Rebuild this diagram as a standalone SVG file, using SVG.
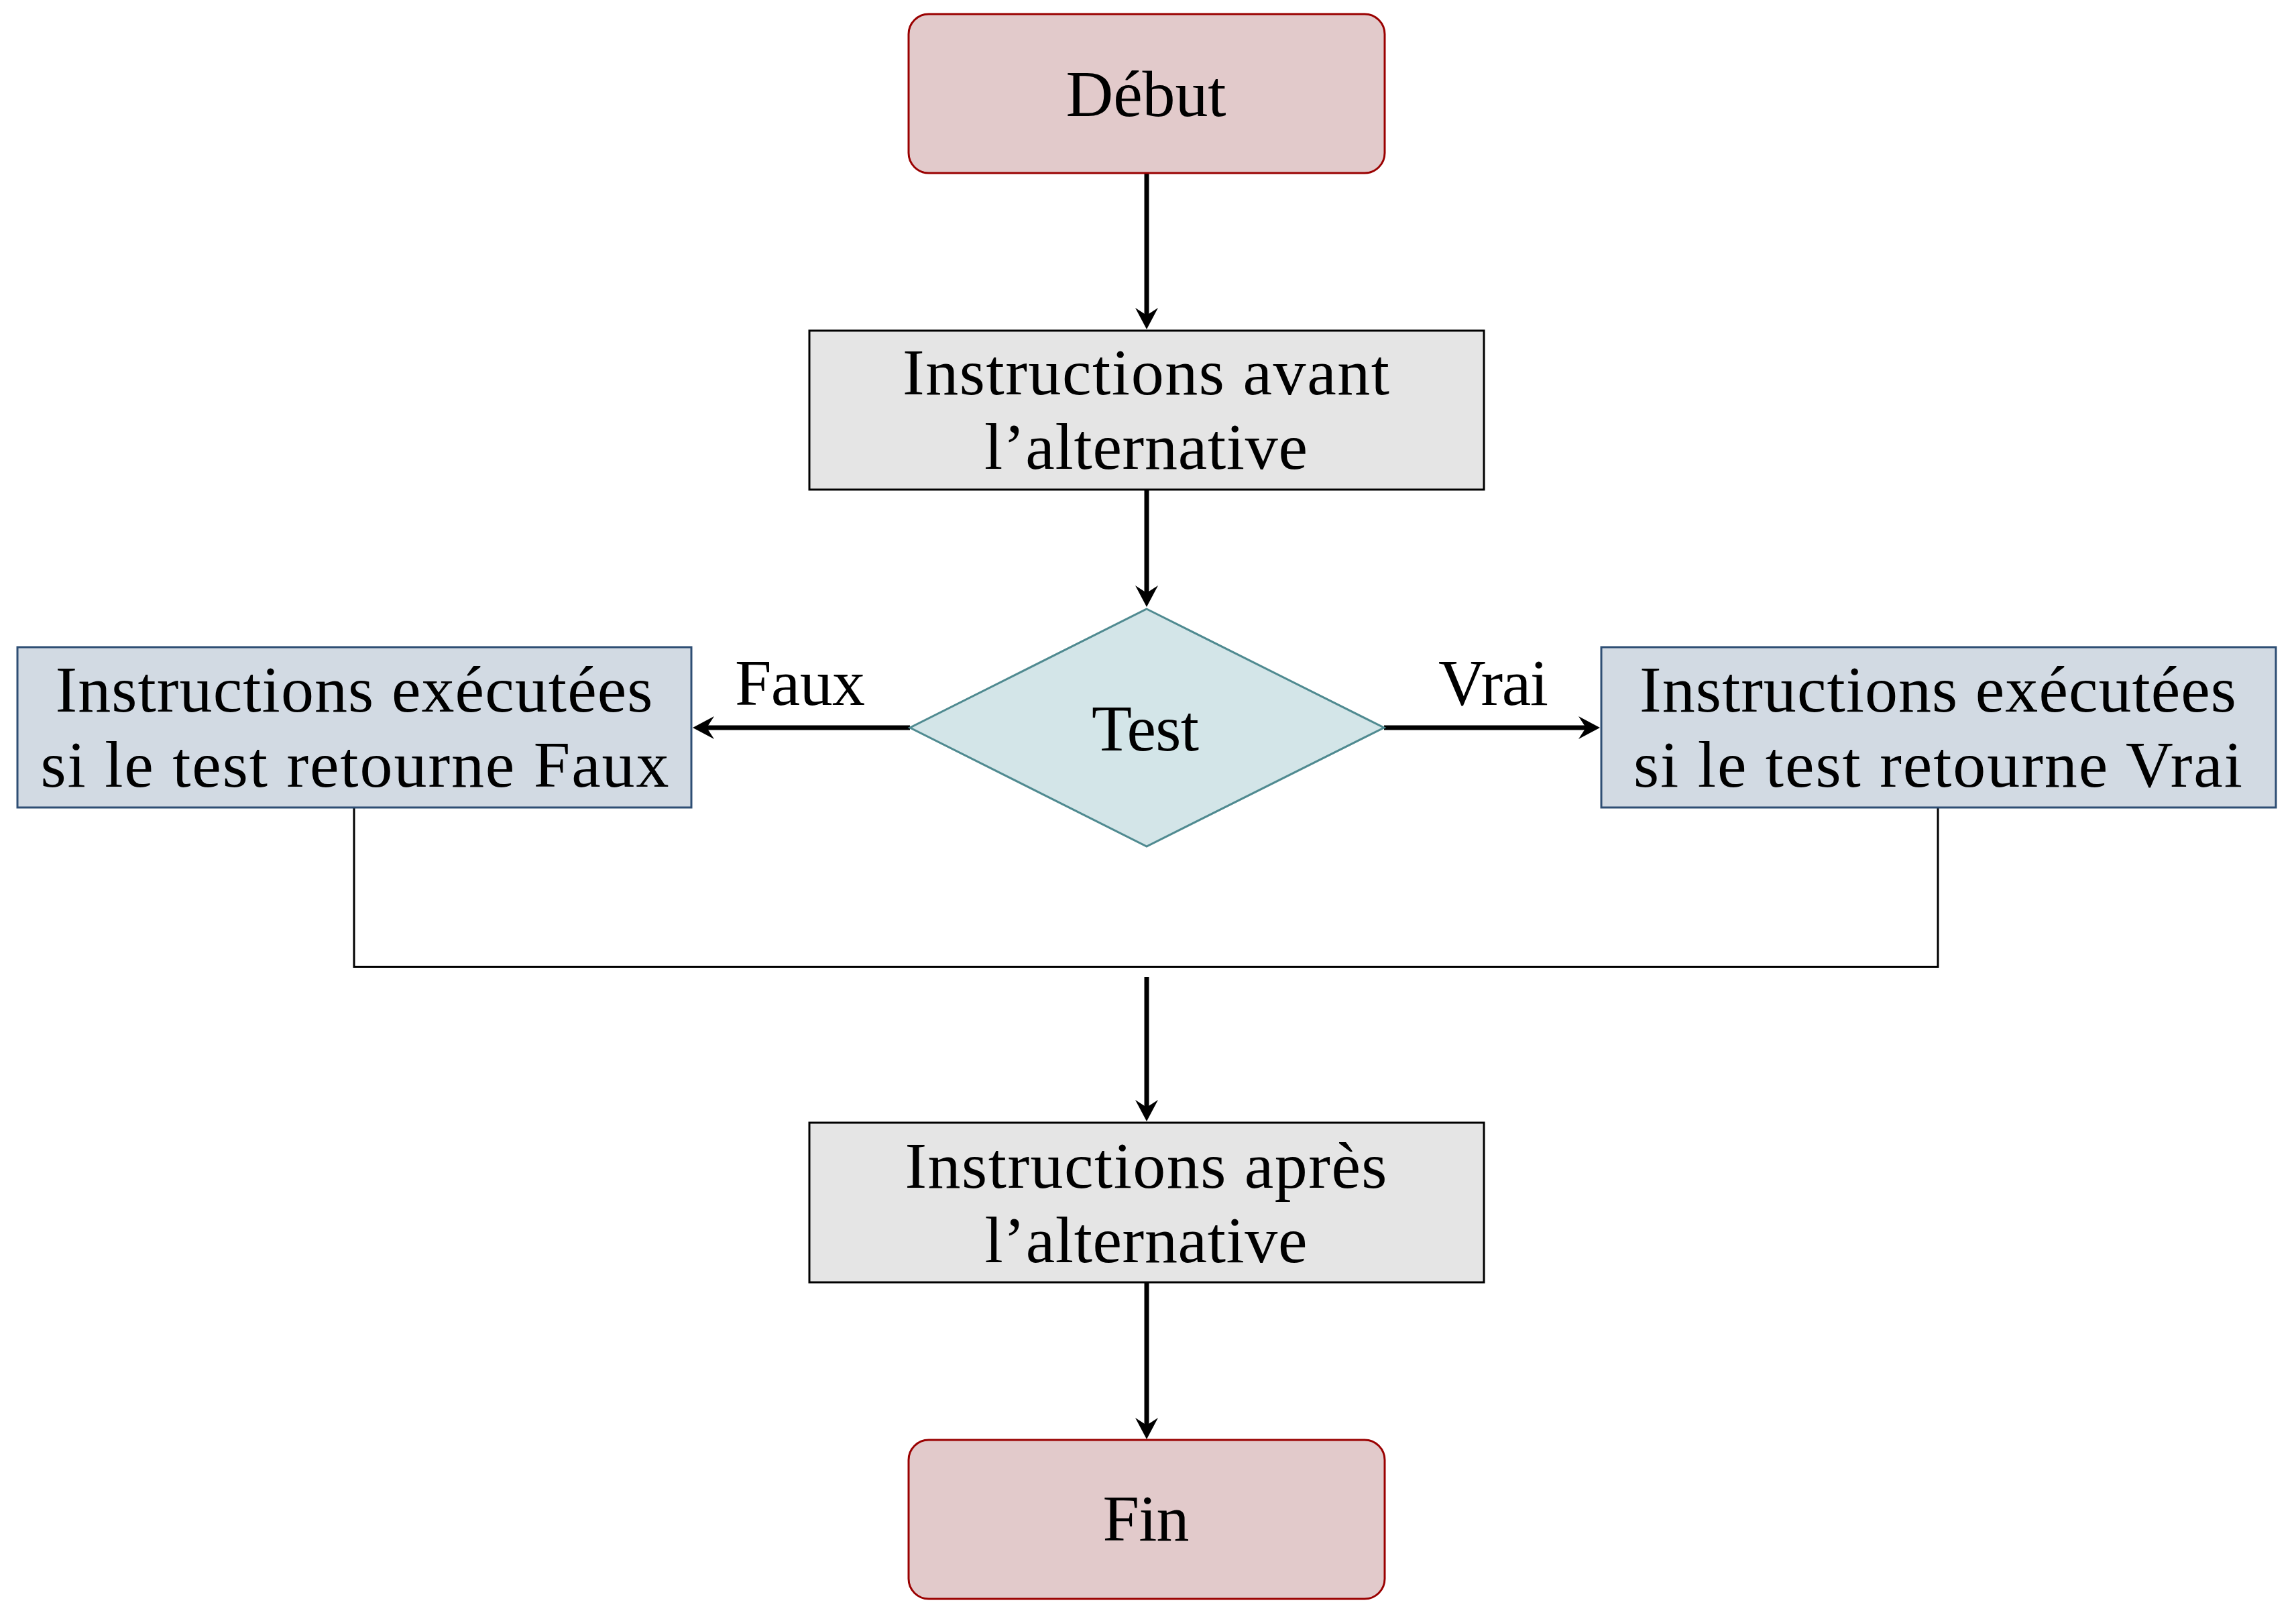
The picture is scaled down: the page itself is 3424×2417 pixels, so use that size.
<svg xmlns="http://www.w3.org/2000/svg" width="3424" height="2417" viewBox="0 0 3424 2417">
<style>
  text { font-family: "Liberation Serif", "Times New Roman", serif; font-size: 98px; fill: #000; text-anchor: middle; }
  .term { fill: #e2cacb; stroke: #9a0000; stroke-width: 3; }
  .proc { fill: #e5e5e5; stroke: #000; stroke-width: 3; }
  .branch { fill: #d2dae3; stroke: #2e4e74; stroke-width: 3; }
  .dec { fill: #d3e5e8; stroke: #4f8a90; stroke-width: 3; }
  .arrow { fill: none; stroke: #000; stroke-width: 7; marker-end: url(#head); }
  .join { fill: none; stroke: #000; stroke-width: 3; }
</style>
<defs>
  <marker id="head" markerUnits="userSpaceOnUse" viewBox="0 -18 34 36" refX="17" refY="0" markerWidth="34" markerHeight="36" orient="auto" overflow="visible">
    <path d="M0,-17 L32,0 L0,17 L11,0 Z" fill="#000"/>
  </marker>
</defs>
<rect width="3424" height="2417" fill="#fff"/>

<g id="connectors">
  <line class="arrow" x1="1710" y1="258" x2="1710" y2="476"/>
  <line class="arrow" x1="1710" y1="730" x2="1710" y2="890"/>
  <line class="arrow" x1="1357" y1="1085" x2="1048" y2="1085"/>
  <line class="arrow" x1="2064" y1="1085" x2="2371" y2="1085"/>
  <polyline class="join" points="528,1204 528,1441.5 2890,1441.5 2890,1204"/>
  <line class="arrow" x1="1710" y1="1457" x2="1710" y2="1657"/>
  <line class="arrow" x1="1710" y1="1912" x2="1710" y2="2131"/>
  <text x="1193" y="1051" textLength="194">Faux</text>
  <text x="2227" y="1051" textLength="164">Vrai</text>
</g>

<g id="debut">
  <rect class="term" x="1355" y="21" width="710" height="237" rx="30" ry="30"/>
  <text x="1709" y="173" textLength="239">Début</text>
</g>

<g id="avant">
  <rect class="proc" x="1207" y="493" width="1006" height="237"/>
  <text x="1709" y="588" textLength="726">Instructions avant</text>
  <text x="1709" y="699" textLength="482">l’alternative</text>
</g>

<g id="test">
  <polygon class="dec" points="1710,908 2064,1085 1710,1262 1357,1085"/>
  <text x="1708" y="1119" textLength="160">Test</text>
</g>

<g id="faux">
  <rect class="branch" x="26" y="965" width="1005" height="239"/>
  <text x="528" y="1061" textLength="891">Instructions exécutées</text>
  <text x="529" y="1173" textLength="937">si le test retourne Faux</text>
</g>

<g id="vrai">
  <rect class="branch" x="2388" y="965" width="1006" height="239"/>
  <text x="2890" y="1061" textLength="890">Instructions exécutées</text>
  <text x="2890" y="1173" textLength="908">si le test retourne Vrai</text>
</g>

<g id="apres">
  <rect class="proc" x="1207" y="1674" width="1006" height="238"/>
  <text x="1709" y="1771" textLength="719">Instructions après</text>
  <text x="1709" y="1882" textLength="481">l’alternative</text>
</g>

<g id="fin">
  <rect class="term" x="1355" y="2147" width="710" height="237" rx="30" ry="30"/>
  <text x="1709" y="2297" textLength="129">Fin</text>
</g>
</svg>
